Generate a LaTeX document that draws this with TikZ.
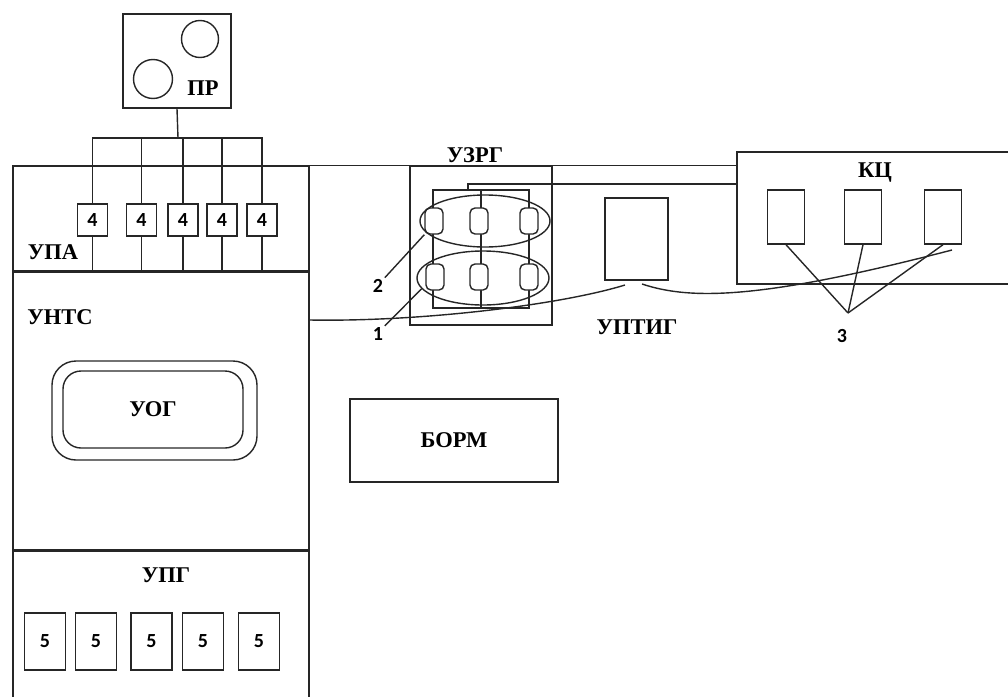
\documentclass[tikz,border=0pt]{standalone}
\usepackage{fontspec}
\setmainfont{Liberation Serif}
\newfontfamily\digitfont{Carlito}
\usetikzlibrary{shapes.geometric,positioning}

\begin{document}
\begin{tikzpicture}[
  x=1pt, y=-1pt, line width=1.4pt, draw=black!85,
  blk/.style={draw, inner sep=0pt},
  lbl/.style={font=\fontsize{22.5}{25}\selectfont\bfseries, inner sep=1pt},
  num/.style={font=\digitfont\fontsize{20}{22}\selectfont\bfseries, inner sep=1pt},
  cell/.style={draw, fill=white, rounded corners=5pt, inner sep=0pt,
               minimum width=18pt, minimum height=26pt},
  ring/.style={draw, ellipse, inner sep=0pt},
  bus/.style={line width=2.8pt}
]
  \useasboundingbox (0,0) rectangle (1008,696);

  % power unit with its bus
  \node[blk, minimum width=108pt, minimum height=94pt] (pr) at (177,61) {};
  \node[draw, circle, minimum size=37pt, inner sep=0pt] (pr1) at (200,39) {};
  \node[draw, circle, minimum size=39pt, inner sep=0pt] (pr2) at (153,79) {};
  \node[lbl] (prl) at (203,88) {ПР};
  \coordinate (tap) at (178,138);

  % left column
  \node[blk, minimum width=296pt, minimum height=105pt] (upa) at (161,218.5) {};
  \node[blk, minimum width=296pt, minimum height=279pt] (unts) at (161,410.5) {};
  \node[blk, minimum width=296pt, minimum height=150pt] (upg) at (161,625) {};
  \draw[bus] (upa.south west) -- (upa.south east);
  \draw[bus] (unts.south west) -- (unts.south east);
  \node[lbl] (upal) at (53,252) {УПА};
  \node[lbl] (guntsl) at (60,317) {УНТС};
  \node[lbl] (upgl) at (166,575) {УПГ};

  \foreach \i/\x in {1/92.5, 2/141.5, 3/183, 4/222, 5/262}
    \node[blk, num, minimum width=30pt, minimum height=32pt] (k\i) at (\x,220) {4};
  \draw (pr.south) -- (tap);
  \draw (k1.north) -- (k1.north |- tap) -- (k5.north |- tap) -- (k5.north);
  \foreach \i in {2,3,4}
    \draw (k\i.north) -- (k\i.north |- tap);
  \foreach \i in {1,...,5}
    \draw (k\i.south) -- (k\i.south |- upa.south);

  \node[blk, rounded corners=24pt, minimum width=205pt, minimum height=99pt] (uogo) at (154.5,410.5) {};
  \node[blk, lbl, rounded corners=18pt, minimum width=180pt, minimum height=77pt] (uog) at (153,409.5) {УОГ};

  \foreach \i/\x in {1/45, 2/96, 3/151.5, 4/203, 5/259}
    \node[blk, num, minimum width=41pt, minimum height=57pt] (g\i) at (\x,641.5) {5};

  \node[blk, lbl, minimum width=208pt, minimum height=83pt] (borm) at (454,440.5) {БОРМ};

  % separator unit
  \node[blk, minimum width=142pt, minimum height=159pt] (uzrg) at (481,245.5) {};
  \node[lbl, above=1pt of uzrg.north, xshift=-6pt] (uzrgl) {УЗРГ};
  \node[blk, minimum width=96pt, minimum height=118pt] (zr) at (481,249) {};
  \draw (zr.north) -- (zr.south);
  \coordinate (zt) at (468,184);
  \foreach \i/\x in {1/434, 2/479, 3/529}
    \node[cell] (za\i) at (\x,221) {};
  \foreach \i/\x in {1/435, 2/479, 3/529}
    \node[cell] (zb\i) at (\x,277) {};
  \node[ring, minimum width=130pt, minimum height=52pt] (e2) at (485,221) {};
  \node[ring, minimum width=132pt, minimum height=54pt] (e1) at (483,278) {};
  \node[num] (n2) at (378,286) {2};
  \node[num] (n1) at (378,334) {1};
  \draw (n2.north east) -- (za1.south west);
  \draw (n1.north east) -- (e1.190);

  % ring main
  \node[blk, minimum width=278pt, minimum height=132pt] (kc) at (876,218) {};
  \node[lbl] (kcl) at (875,173) {КЦ};
  \foreach \i/\x in {1/786, 2/863, 3/943}
    \node[blk, minimum width=37pt, minimum height=54pt] (q\i) at (\x,217) {};
  \node[num] (n3) at (842,336) {3};
  \coordinate (p3) at (848,313);
  \foreach \i in {1,2,3}
    \draw (q\i.south) -- (p3);

  \node[blk, minimum width=63pt, minimum height=82pt] (uptig) at (636.5,239) {};
  \node[lbl] (uptigl) at (637,327) {УПТИГ};

  % links
  \draw (upa.north east) -- (kc.west |- upa.north);
  \draw (zr.north -| zt) -- (zt) -- (kc.west |- zt);
  \coordinate (ua) at (625,285);
  \coordinate (ub) at (642,284);
  \coordinate (uc) at (952,250);
  \draw (unts.east |- 0,320) .. controls (420,322) and (560,305) .. (ua);
  \draw (ub) .. controls (690,300) and (760,300) .. (uc);
\end{tikzpicture}
\end{document}
